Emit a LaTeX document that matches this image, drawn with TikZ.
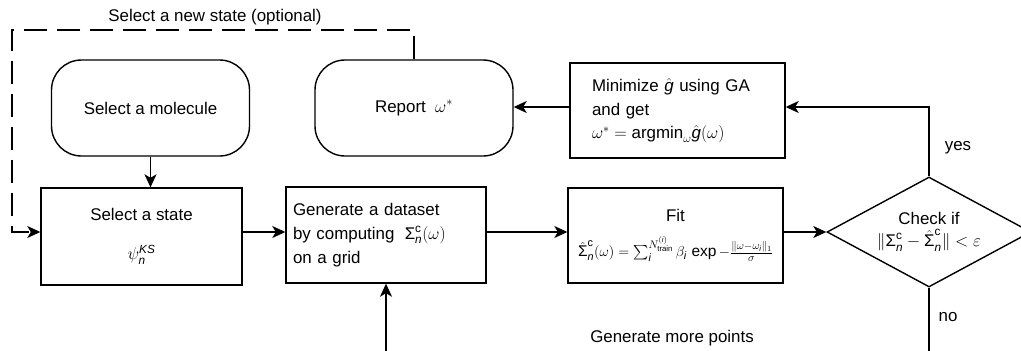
\documentclass[tikz,border=0pt]{standalone}
\usepackage{amsmath}
\usepackage{fontspec}
\setmainfont{Liberation Sans}
\usetikzlibrary{arrows.meta,shapes.geometric}
\newcommand{\Sg}{\text{Σ}}
\tikzset{
  box/.style={draw, line width=1.4pt, inner sep=0pt, minimum width=#1},
  roundbox/.style={draw, line width=1.4pt, rounded corners=30pt, minimum width=198pt, minimum height=96pt},
  arr/.style={line width=1.4pt, -{Stealth[length=13pt,width=12pt,inset=3.5pt]}},
  ln/.style={line width=1.4pt},
  lbl/.style={inner sep=0pt}
}
\begin{document}
\begin{tikzpicture}[x=1pt,y=-1pt,font=\fontsize{16.9}{20}\selectfont]
\path[use as bounding box] (0,0) rectangle (1021,351);
\clip (0,0) rectangle (1021,351);
% nodes
\node[roundbox] (mol) at (150.5,108) {Select a molecule};
\node[roundbox] (rep) at (414,108) {Report\; $\omega^{*}$};
\node[box=201pt, minimum height=97pt, align=center] (state) at (141.5,236.5)
  {Select a state\\[19pt] $\psi_{\mathit{n}}^{\mathit{KS}}$};
\node[box=200pt, minimum height=96pt, text width=186pt, align=left,
      font=\fontsize{16.9}{24}\selectfont] (gen) at (386,235)
  {Generate a dataset\\by computing\; $\Sg^{\mathrm{c}}_{\mathit{n}}(\omega)$\\on a grid};
\node[box=215pt, minimum height=95pt, align=center] (fit) at (675.5,235.5)
  {Fit\\[14pt] {\fontsize{15.5}{17}\selectfont $\hat{\Sg}^{\mathrm{c}}_{\mathit{n}}(\omega) = \sum_{\mathit{i}}^{N^{(\mathit{i})}_{\mathrm{train}}} \beta_{\mathit{i}}\,\exp - \frac{\|\omega-\omega_{\mathit{i}}\|_1}{\sigma}$}};
\node[box=215pt, minimum height=95pt, text width=171pt, align=left,
      font=\fontsize{16.9}{23.5}\selectfont] (mini) at (677.5,110.5)
  {Minimize $\hat{\mathit{g}}$ using GA\\and get\\$\omega^{*} = \mathrm{argmin}_{\omega}\hat{\mathit{g}}(\omega)$};
\node[draw, line width=1.4pt, diamond, aspect=1.855, minimum width=204pt, minimum height=110pt,
      inner sep=0pt, align=center] (chk) at (929,232)
  {Check if\\[2pt] $\|\Sg^{\mathrm{c}}_{\mathit{n}} - \hat{\Sg}^{\mathrm{c}}_{\mathit{n}}\| < \varepsilon$};
% helper coordinates
\coordinate (ay) at (0,232);
\coordinate (yy) at (0,107);
\coordinate (topd) at (0,30);
\coordinate (lc) at (12,30);
\coordinate (lb) at (12,232);
\coordinate (gb) at (386,351);
\coordinate (nb) at (929,351);
% connectors
\draw[arr] (mol.south) -- (mol.south |- state.north);
\draw[arr] (state.east |- ay) -- (gen.west |- ay);
\draw[arr] (gen.east |- ay) -- (fit.west |- ay);
\draw[arr] (fit.east |- ay) -- (chk.west);
\draw[arr] (chk.north) -- (chk.north |- yy) -- (mini.east |- yy);
\draw[arr] (mini.west |- yy) -- (rep.east |- yy);
\draw[ln] (chk.south) -- (nb);
\draw[arr] (gb) -- (gen.south);
\draw[arr, dash pattern=on 23pt off 10pt] (rep.north) -- (rep.north |- topd) -- (lc) -- (lb) -- (state.west |- ay);
% labels
\node[lbl] (l1) at (215,17) {Select a new state (optional)};
\node[lbl] (l2) at (958,148) {yes};
\node[lbl] (l3) at (948,317) {no};
\node[lbl] (l4) at (672,338) {Generate more points};
\end{tikzpicture}
\end{document}
